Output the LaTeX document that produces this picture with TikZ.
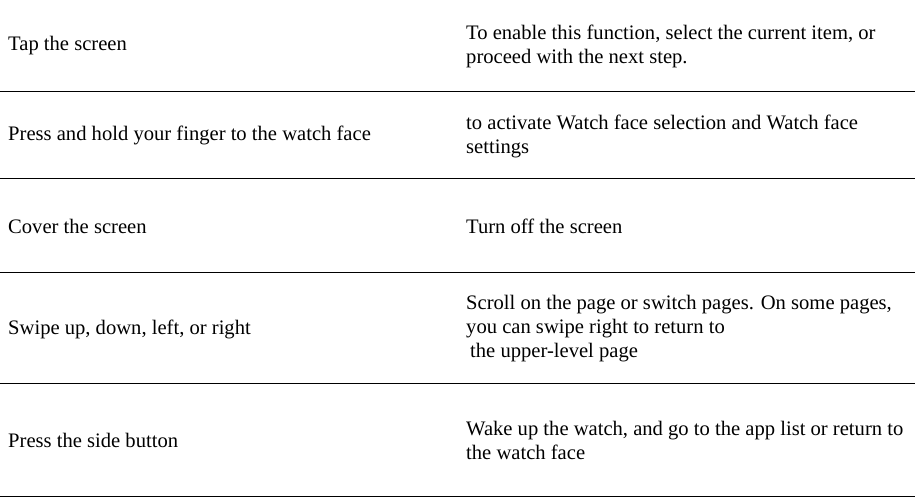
\documentclass[tikz,border=0pt]{standalone}
\usepackage{fontspec}
\setmainfont{Liberation Serif}
\begin{document}
\begin{tikzpicture}[x=1pt,y=-1pt,
  cell/.style={anchor=west,inner sep=0pt,align=left,font=\fontsize{20.6}{24}\selectfont},
  rule/.style={line width=0.9pt,black}]
\useasboundingbox (0,0) rectangle (915,499);
\node[cell] (l1) at (8,46) {Tap the screen};
\node[cell] (r1) at (466,46) {To enable this function, select the current item, or\\proceed with the next step.};
\node[cell] (l2) at (8,135) {Press and hold your finger to the watch face};
\node[cell] (r2) at (466,136) {to activate Watch face selection and Watch face\\settings};
\node[cell] (l3) at (8,226) {Cover the screen};
\node[cell] (r3) at (466,226) {Turn off the screen};
\node[cell] (l4) at (8,329) {Swipe up, down, left, or right};
\node[cell] (r4) at (466,329) {Scroll on the page or switch pages. On some pages,\\you can swipe right to return to\\\hspace*{4pt}the upper-level page};
\node[cell] (l5) at (8,440) {Press the side button};
\node[cell] (r5) at (466,440.5) {Wake up the watch, and go to the app list or return to\\the watch face};
\foreach \y in {91,178,272,383,496} \draw[rule] (0,\y) -- (915,\y);
\end{tikzpicture}
\end{document}
